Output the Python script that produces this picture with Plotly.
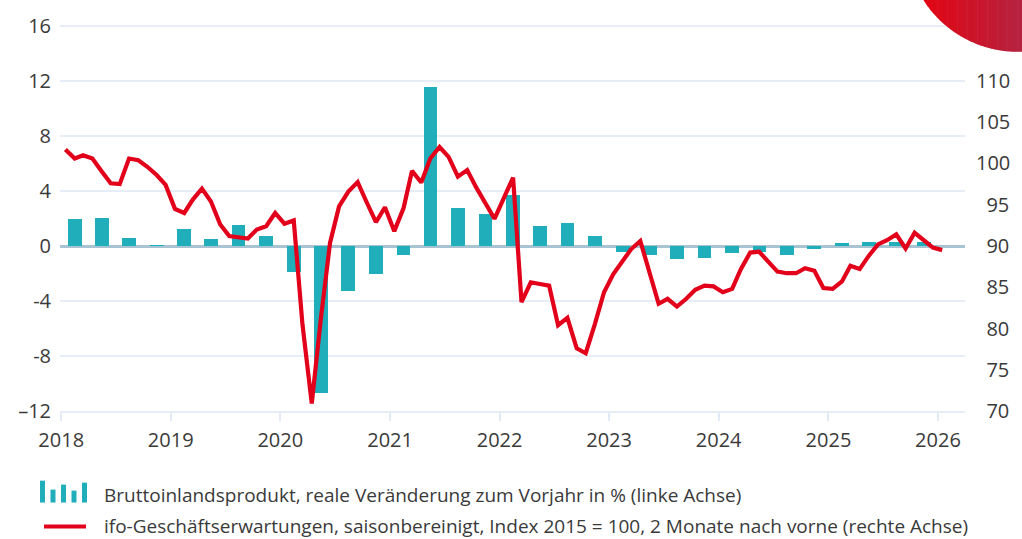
import plotly.graph_objects as go
import pandas as pd

# ---------------- data ----------------
gdp_start = "2018-01-01"   # quarterly GDP, 2018Q1 .. 2025Q4
gdp_values = [
    1.95, 2.0, 0.58, 0.05,
    1.22, 0.5, 1.5, 0.72,
    -1.92, -10.66, -3.3, -2.07,
    -0.63, 11.55, 2.74, 2.31,
    3.68, 1.44, 1.66, 0.72,
    -0.4, -0.63, -0.92, -0.84,
    -0.48, -0.4, -0.65, -0.2,
    0.2, 0.3, 0.3, 0.3,
]
ifo_start = "2018-01-01"   # monthly ifo expectations, Jan 2018 .. Jan 2026
ifo_values = [
    101.7, 100.6, 101.0, 100.6, 99.1, 97.6, 97.5, 100.6, 100.4, 99.6, 98.6, 97.4,
    94.5, 94.0, 95.6, 96.95, 95.4, 92.6, 91.2, 91.1, 90.9, 92.0, 92.4, 94.0,
    92.7, 93.1, 80.5, 70.9, 81.1, 90.4, 94.8, 96.6, 97.75, 95.3, 92.9, 94.7,
    91.8, 94.6, 99.1, 97.7, 100.6, 102.0, 100.8, 98.4, 99.2, 97.1, 95.1, 93.3,
    95.8, 98.3, 83.2, 85.6, 85.4, 85.2, 80.4, 81.3, 77.6, 77.0, 80.6, 84.4,
    86.6, 88.2, 89.6, 90.6, 87.0, 83.0, 83.6, 82.65, 83.6, 84.7, 85.2, 85.1,
    84.4, 84.8, 87.2, 89.2, 89.3, 88.0, 86.9, 86.7, 86.7, 87.3, 87.0, 84.9,
    84.8, 85.7, 87.6, 87.2, 88.8, 90.2, 90.7, 91.4, 89.7, 91.6, 90.7, 89.8,
    89.5,
]
year_ticks = ["2018", "2019", "2020", "2021", "2022", "2023", "2024", "2025", "2026"]
left_ticks = [-12, -8, -4, 0, 4, 8, 12, 16]
left_labels = ["\u201312", "-8", "-4", "0", "4", "8", "12", "16"]
right_ticks = [70, 75, 80, 85, 90, 95, 100, 105, 110]
right_labels = ["70", "75", "80", "85", "90", "95", "100", "105", "110"]
legend_gdp = "Bruttoinlandsprodukt, reale Veränderung zum Vorjahr in % (linke Achse)"
legend_ifo = "ifo-Geschäftserwartungen, saisonbereinigt, Index 2015 = 100, 2 Monate nach vorne (rechte Achse)"

# ---------------- style ----------------
FONT = "Open Sans, Noto Sans, sans-serif"
TXT = "#3a3a3a"
TEAL = "#20AEBB"
RED = "#E2001A"
GRID = "#E6EDF7"
TICK_SIZE = 20
LEG_SIZE = 19

W, H = 1022, 539
L, R, T, B = 60, 57, 22, 128
PW, PH = W - L - R, H - T - B
Y_TOP = 16 + 2 / 13.82   # two pixels of headroom so the 16 gridline shows


def px(x):
    return (x - L) / PW


def py(y):
    return (H - B - y) / PH


def pad(label, width=3):
    # right-align the right-axis labels with non-breaking spaces
    return "\u00a0\u00a0" * (width - len(label)) + label


quarters = pd.date_range(gdp_start, periods=len(gdp_values), freq="QS") + pd.Timedelta(days=45)
months = pd.date_range(ifo_start, periods=len(ifo_values), freq="MS") + pd.Timedelta(days=14)
year_dates = [f"{y}-01-01" for y in year_ticks]

fig = go.Figure()
fig.add_trace(go.Bar(
    x=quarters, y=gdp_values, name=legend_gdp, marker=dict(color=TEAL, line=dict(width=0)),
    width=46 * 86400000, yaxis="y",
))
fig.add_trace(go.Scatter(
    x=months, y=ifo_values, name=legend_ifo, mode="lines",
    line=dict(color=RED, width=4.2), yaxis="y2",
))

shapes = []
# red circle with horizontal gradient (top right decoration)
cx, cy, r = 1018.0, -62.0, 112.0
c0, c1 = (227, 6, 19), (180, 35, 65)
x_left = cx - (r ** 2 - (0 - cy) ** 2) ** 0.5 - 1
n = 30
x_right = W + 2
for k in range(n):
    xa = x_left + (x_right - x_left) * k / n
    xb = x_left + (x_right - x_left) * (k + 1) / n + 0.6
    pts = []
    steps = 6
    for s in range(steps + 1):
        xx = xa + (xb - xa) * s / steps
        dy = max(r ** 2 - (xx - cx) ** 2, 0) ** 0.5
        pts.append((xx, cy + dy))
    path = f"M {px(xa)},{py(-5)} " + " ".join(f"L {px(a)},{py(b)}" for a, b in pts) + f" L {px(xb)},{py(-5)} Z"
    t = (k + 0.5) / n
    col = tuple(round(c0[i] + (c1[i] - c0[i]) * t) for i in range(3))
    shapes.append(dict(type="path", xref="paper", yref="paper", path=path,
                       fillcolor=f"rgb{col}", line=dict(width=0), layer="above"))

# legend icons
base = 503
for x0, h in [(40, 22), (50.5, 13), (61, 18), (71.5, 12), (82, 20)]:
    shapes.append(dict(type="rect", xref="paper", yref="paper",
                       x0=px(x0), x1=px(x0 + 5), y0=py(base), y1=py(base - h),
                       fillcolor=TEAL, line=dict(width=0)))
shapes.append(dict(type="line", xref="paper", yref="paper",
                   x0=px(44), x1=px(86), y0=py(527), y1=py(527),
                   line=dict(color=RED, width=4)))

annotations = [
    dict(text=legend_gdp, xref="paper", yref="paper", x=px(102), y=py(495),
         xanchor="left", yanchor="middle", showarrow=False, font=dict(family=FONT, size=LEG_SIZE, color=TXT)),
    dict(text=legend_ifo, xref="paper", yref="paper", x=px(102), y=py(527),
         xanchor="left", yanchor="middle", showarrow=False, font=dict(family=FONT, size=LEG_SIZE, color=TXT)),
]

fig.update_layout(
    width=W, height=H, autosize=False,
    margin=dict(l=L, r=R, t=T, b=B),
    paper_bgcolor="white", plot_bgcolor="white",
    showlegend=False, bargap=0,
    font=dict(family=FONT, size=TICK_SIZE, color=TXT),
    shapes=shapes, annotations=annotations,
    xaxis=dict(
        type="date", range=["2017-12-28", "2026-04-01"],
        tickvals=year_dates, ticktext=year_ticks,
        showgrid=False, zeroline=False,
        ticks="outside", ticklen=8, tickwidth=2, tickcolor="#E3EBF6",
        showline=True, linecolor=GRID, linewidth=2,
        tickfont=dict(family=FONT, size=TICK_SIZE, color=TXT), ticklabelstandoff=2,
    ),
    yaxis=dict(
        range=[-12, Y_TOP], tickvals=left_ticks, ticktext=left_labels,
        showgrid=True, gridcolor=GRID, gridwidth=2,
        zeroline=True, zerolinecolor="#A8C3D2", zerolinewidth=3,
        ticks="", tickfont=dict(family=FONT, size=TICK_SIZE, color=TXT), ticklabelstandoff=8,
    ),
    yaxis2=dict(
        overlaying="y", side="right", range=[70, 90 + Y_TOP * 5 / 3],
        tickvals=right_ticks, ticktext=[pad(s) for s in right_labels],
        showgrid=False, zeroline=False, ticks="",
        tickfont=dict(family=FONT, size=TICK_SIZE, color=TXT), ticklabelstandoff=10,
    ),
)

fig.write_html(
    "out.html",
    config={"displayModeBar": False},
    post_script="document.body.style.margin='0';document.body.style.overflow='hidden';",
)
